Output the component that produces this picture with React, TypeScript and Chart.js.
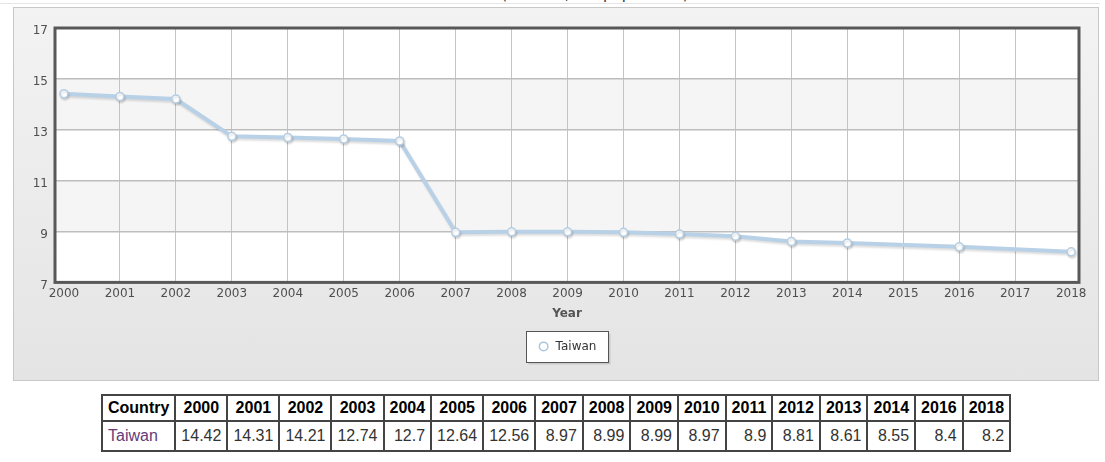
import React, { useEffect, useRef } from "react";
import { Chart, registerables } from "chart.js";

Chart.register(...registerables);

const TITLE = "Birth rate (births/1,000 population)";
const SERIES_NAME = "Taiwan";
const X_TITLE = "Year";
const TABLE_HEAD = "Country";

const years = [2000, 2001, 2002, 2003, 2004, 2005, 2006, 2007, 2008, 2009, 2010, 2011, 2012, 2013, 2014, 2015, 2016, 2017, 2018];
const birthRate: (number | null)[] = [14.42, 14.31, 14.21, 12.74, 12.7, 12.64, 12.56, 8.97, 8.99, 8.99, 8.97, 8.9, 8.81, 8.61, 8.55, null, 8.4, null, 8.2];
const yTicks = [7, 9, 11, 13, 15, 17];

const FONT = "'DejaVu Sans', Verdana, sans-serif";

export default function App() {
  const ref = useRef<HTMLCanvasElement>(null);

  useEffect(() => {
    if (!ref.current) return;
    const panelPlugin = {
      id: "panelPlugin",
      beforeDraw(chart: any) {
        const { ctx, chartArea: a, scales } = chart;
        const y = scales.y;
        ctx.save();
        ctx.fillStyle = "#ffffff";
        ctx.fillRect(a.left, a.top, a.right - a.left, a.bottom - a.top);
        ctx.fillStyle = "#f5f5f5";
        for (let i = 0; i < yTicks.length - 1; i++) {
          if (i % 2 === 1) {
            const y1 = y.getPixelForValue(yTicks[i + 1]);
            const y0 = y.getPixelForValue(yTicks[i]);
            ctx.fillRect(a.left, y1, a.right - a.left, y0 - y1);
          }
        }
        const lg = chart.legend;
        if (lg && lg.legendHitBoxes && lg.legendHitBoxes.length) {
          const h = lg.legendHitBoxes[0];
          const cx = h.left + h.width / 2;
          const cy = h.top + h.height / 2;
          const w = 82, hh = 31;
          const bx = Math.round(cx - w / 2) + 0.5;
          const by = Math.round(cy - hh / 2) + 0.5;
          ctx.fillStyle = "rgba(0,0,0,0.12)";
          ctx.fillRect(bx + 2, by + 2, w, hh);
          ctx.fillStyle = "#ffffff";
          ctx.fillRect(bx, by, w, hh);
          ctx.strokeStyle = "#555555";
          ctx.lineWidth = 1;
          ctx.strokeRect(bx, by, w, hh);
        }
        ctx.restore();
      },
      beforeDatasetsDraw(chart: any) {
        const { ctx, chartArea: a } = chart;
        ctx.save();
        ctx.strokeStyle = "#585858";
        ctx.lineWidth = 3;
        ctx.strokeRect(a.left, a.top, a.right - a.left, a.bottom - a.top);
        ctx.restore();
      },
      beforeDatasetDraw(chart: any) {
        const ctx = chart.ctx;
        ctx.save();
        ctx.shadowColor = "rgba(0,0,0,0.13)";
        ctx.shadowOffsetX = 1;
        ctx.shadowOffsetY = 2;
        ctx.shadowBlur = 2;
      },
      afterDatasetDraw(chart: any) {
        chart.ctx.restore();
      },
    };

    const chart = new Chart(ref.current, {
      type: "line",
      data: {
        datasets: [
          {
            label: SERIES_NAME,
            data: years.map((yr, i) => ({ x: yr, y: birthRate[i] })) as any,
            borderColor: "#b9d1e6",
            backgroundColor: "#ffffff",
            borderWidth: 4,
            pointRadius: 4,
            pointBackgroundColor: "#ffffff",
            pointBorderColor: "#b4cde3",
            pointBorderWidth: 1.5,
            pointStyle: "circle",
            spanGaps: true,
            tension: 0,
          },
        ],
      },
      plugins: [panelPlugin],
      options: {
        animation: false,
        responsive: false,
        maintainAspectRatio: false,
        layout: { padding: { left: 0, right: 19, top: 20, bottom: 17.6 } },
        scales: {
          x: {
            type: "linear",
            min: 1999.84,
            max: 2018.14,
            afterBuildTicks: (scale: any) => {
              scale.ticks = years.map((v) => ({ value: v }));
            },
            afterFit: (scale: any) => {
              scale.height = 48;
            },
            border: { display: false },
            grid: {
              color: (c: any) =>
                c.tick && (c.tick.value === years[0] || c.tick.value === years[years.length - 1])
                  ? "rgba(0,0,0,0)"
                  : "#c4c4c4",
              lineWidth: 1,
              drawTicks: false,
            },
            ticks: {
              autoSkip: false,
              maxRotation: 0,
              padding: 4,
              color: "#4f4f4f",
              font: { family: FONT, size: 12 },
              callback: (v: any) => String(v),
            },
            title: {
              display: true,
              text: X_TITLE,
              color: "#555555",
              font: { family: FONT, size: 12, weight: "bold" },
              padding: { top: 0, bottom: 9 },
            },
          },
          y: {
            min: 7,
            max: 17,
            afterBuildTicks: (scale: any) => {
              scale.ticks = yTicks.map((v) => ({ value: v }));
            },
            afterFit: (scale: any) => {
              scale.width = 41;
            },
            border: { display: false },
            grid: {
              color: (c: any) =>
                c.tick && (c.tick.value === 7 || c.tick.value === 17) ? "rgba(0,0,0,0)" : "#bdbdbd",
              lineWidth: 1.5,
              drawTicks: false,
            },
            ticks: {
              padding: 7,
              labelOffset: 3,
              color: "#4f4f4f",
              font: { family: FONT, size: 12 },
              callback: (v: any) => String(v),
            },
          },
        },
        plugins: {
          title: { display: false },
          tooltip: { enabled: false },
          legend: {
            display: true,
            position: "bottom",
            fullSize: false,
            labels: {
              usePointStyle: true,
              boxWidth: 12,
              boxHeight: 6,
              padding: 10,
              color: "#333333",
              font: { family: FONT, size: 12 },
              generateLabels: (ch: any) =>
                (Chart.defaults.plugins.legend.labels as any).generateLabels(ch).map((l: any) => ({
                  ...l,
                  lineWidth: 1.5,
                  fillStyle: "#ffffff",
                  strokeStyle: "#a9c6de",
                })),
            },
          },
        },
      },
    });
    return () => chart.destroy();
  }, []);

  const tableYears = years.filter((_, i) => birthRate[i] !== null);
  const tableVals = birthRate.filter((v) => v !== null) as number[];

  const cellBorder = "1px solid #444";
  const thStyle: React.CSSProperties = {
    border: cellBorder,
    padding: "3px 5px",
    fontWeight: "bold",
    color: "#000",
    textAlign: "center",
  };
  const tdStyle: React.CSSProperties = {
    border: cellBorder,
    padding: "5px 5px",
    color: "#333",
    textAlign: "right",
  };

  return (
    <div style={{ position: "fixed", left: 0, top: 0, width: 1105, height: 462, background: "#fff", overflow: "hidden" }}>
      <div style={{ position: "absolute", left: 0, top: 3, width: 1100, height: 1, background: "#e6e6e6" }} />
      <div
        style={{
          position: "absolute",
          left: 13,
          top: -13,
          width: 1088,
          textAlign: "center",
          fontFamily: FONT,
          fontSize: 15,
          lineHeight: "15px",
          color: "#333",
          whiteSpace: "nowrap",
        }}
      >
        {TITLE}
      </div>
      <div
        style={{
          position: "absolute",
          left: 13,
          top: 7,
          width: 1084,
          height: 372,
          border: "1px solid #c8c8c8",
          background: "linear-gradient(#f3f3f3, #e4e4e4)",
        }}
      >
        <canvas ref={ref} width={1084} height={372} style={{ display: "block", width: 1084, height: 372 }} />
      </div>
      <table
        style={{
          position: "absolute",
          left: 101,
          top: 394,
          borderCollapse: "separate",
          borderSpacing: 0,
          border: cellBorder,
          fontFamily: "Arial, 'Liberation Sans', sans-serif",
          fontSize: 16,
        }}
      >
        <tbody>
          <tr>
            <th style={thStyle}>{TABLE_HEAD}</th>
            {tableYears.map((y) => (
              <th key={y} style={thStyle}>
                {y}
              </th>
            ))}
          </tr>
          <tr>
            <td style={{ ...tdStyle, textAlign: "left", color: "#663a7a" }}>{SERIES_NAME}</td>
            {tableVals.map((v, i) => (
              <td key={i} style={tdStyle}>
                {v}
              </td>
            ))}
          </tr>
        </tbody>
      </table>
    </div>
  );
}
